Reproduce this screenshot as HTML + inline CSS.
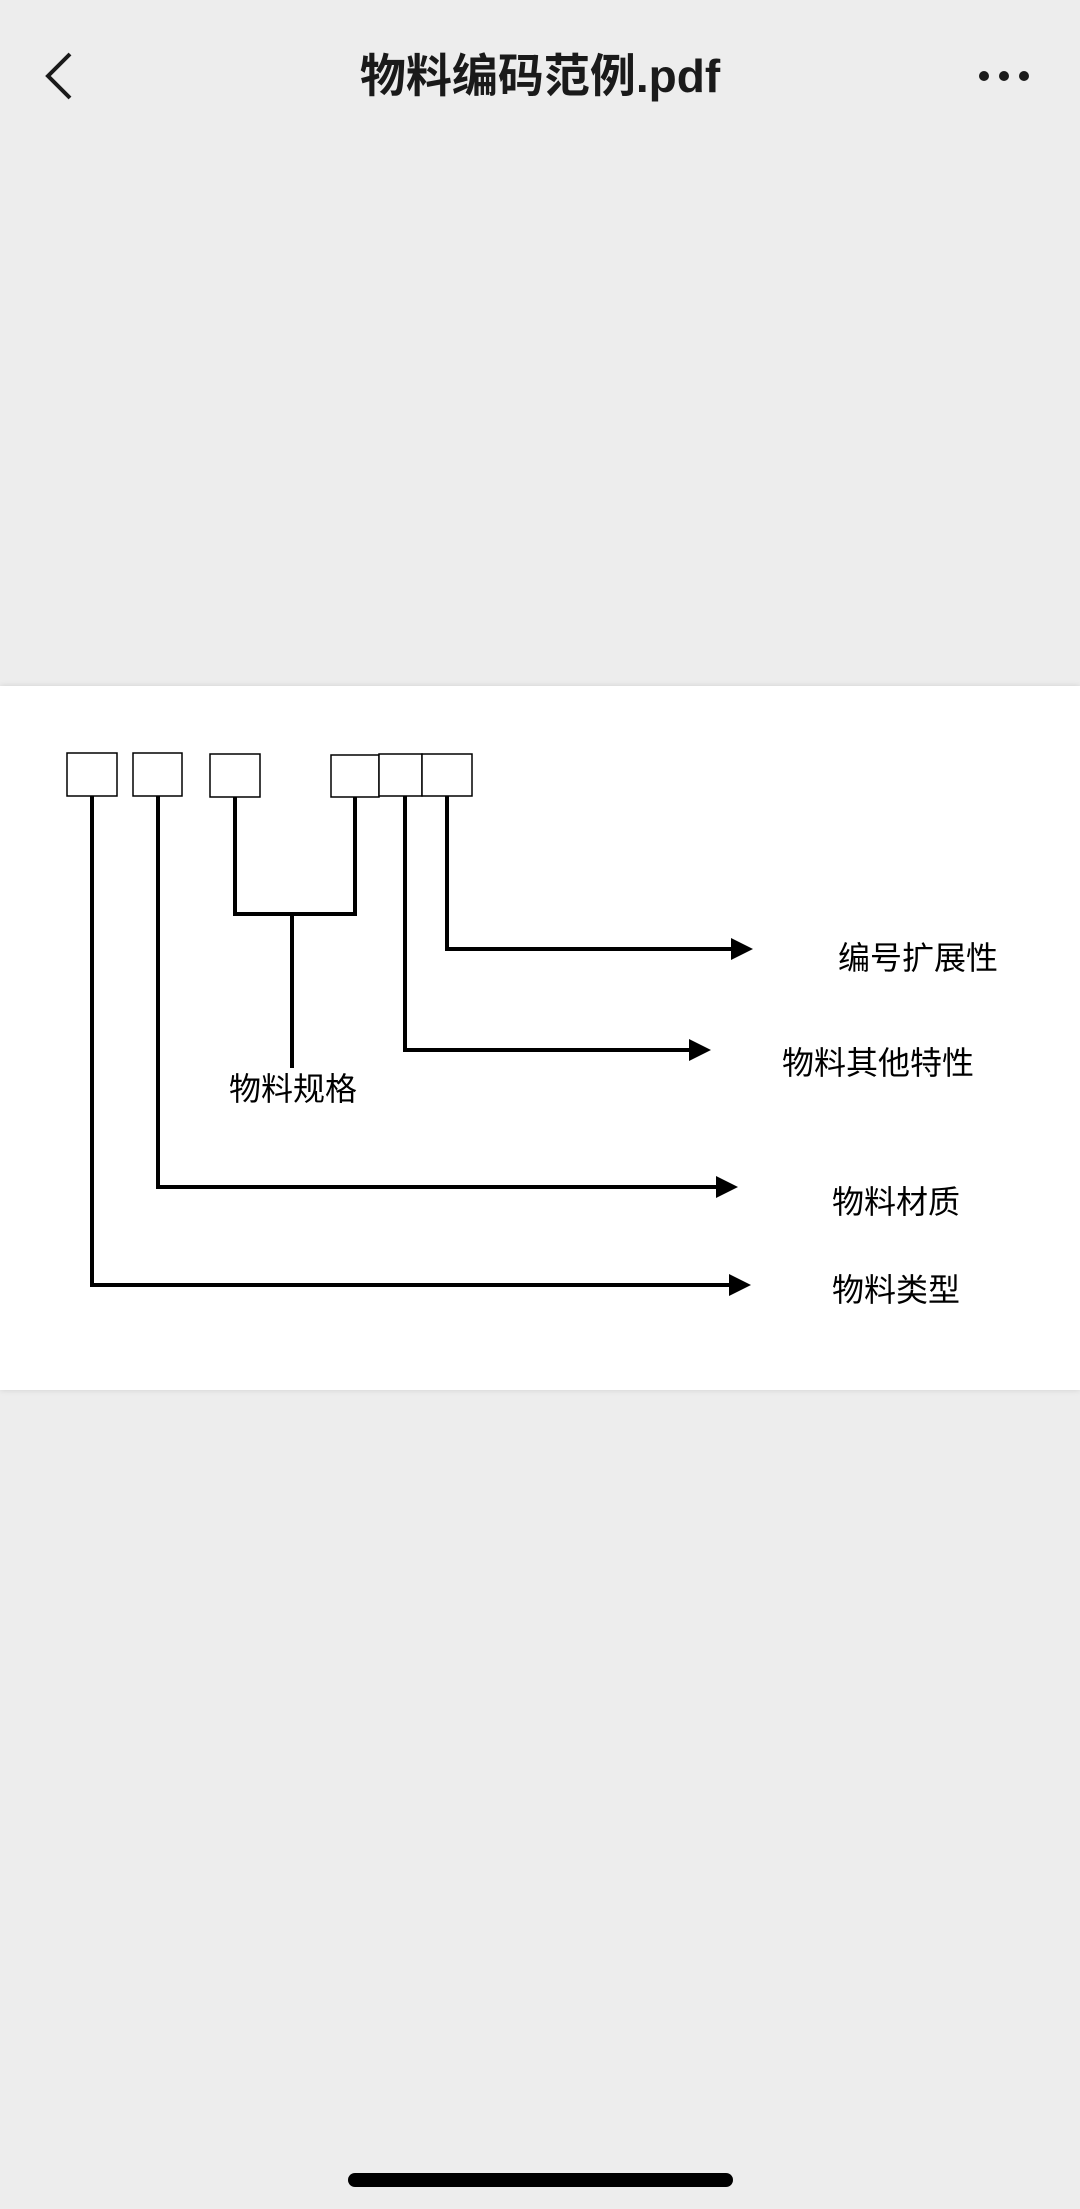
<!DOCTYPE html>
<html><head><meta charset="utf-8"><style>
html,body{margin:0;padding:0;width:1080px;height:2209px;background:#ededed;overflow:hidden;font-family:"Liberation Sans","Noto Sans CJK SC",sans-serif;}
.title{position:absolute;top:46px;left:0;width:1080px;text-align:center;font-size:46px;font-weight:bold;color:#1a1a1a;line-height:60px;}
.panel{position:absolute;left:0;top:686px;width:1080px;height:704px;background:#fff;box-shadow:0 0 6px rgba(0,0,0,0.12);}
.bar{position:absolute;left:348px;top:2173px;width:385px;height:14px;border-radius:7px;background:#000;}
</style></head><body>
<svg style="position:absolute;left:0;top:0" width="1080" height="140">
<polyline points="70,54 48,76 70,98" fill="none" stroke="#1a1a1a" stroke-width="4"/>
<circle cx="984" cy="76" r="5" fill="#1a1a1a"/><circle cx="1004" cy="76" r="5" fill="#1a1a1a"/><circle cx="1024" cy="76" r="5" fill="#1a1a1a"/>
</svg>
<div class="title">物料编码范例.pdf</div>
<div class="panel"></div>
<svg style="position:absolute;left:0;top:0" width="1080" height="1400">
<g fill="#fff" stroke="#000" stroke-width="1.5">
<rect x="67" y="753" width="50" height="43"/>
<rect x="133" y="753" width="49" height="43"/>
<rect x="210" y="754" width="50" height="43"/>
<rect x="331" y="755" width="48" height="42"/>
<rect x="379" y="754" width="43" height="42"/>
<rect x="422" y="754" width="50" height="42"/>
</g>
<g fill="none" stroke="#000" stroke-width="4">
<polyline points="92,796 92,1285 733,1285"/>
<polyline points="158,796 158,1187 720,1187"/>
<polyline points="235,797 235,914 355,914 355,797"/>
<line x1="292" y1="914" x2="292" y2="1068"/>
<polyline points="405,796 405,1050 693,1050"/>
<polyline points="447,796 447,949 735,949"/>
</g>
<g fill="#000">
<polygon points="731,938 753,949 731,960"/>
<polygon points="689,1039 711,1050 689,1061"/>
<polygon points="716,1176 738,1187 716,1198"/>
<polygon points="729,1274 751,1285 729,1296"/>
</g>
<g font-family="Liberation Sans, Noto Sans CJK SC, sans-serif" font-size="32" fill="#000">
<text x="229" y="1100">物料规格</text>
<text x="838" y="969">编号扩展性</text>
<text x="782" y="1074">物料其他特性</text>
<text x="832" y="1213">物料材质</text>
<text x="832" y="1301">物料类型</text>
</g>
</svg>
<div class="bar"></div>
</body></html>
